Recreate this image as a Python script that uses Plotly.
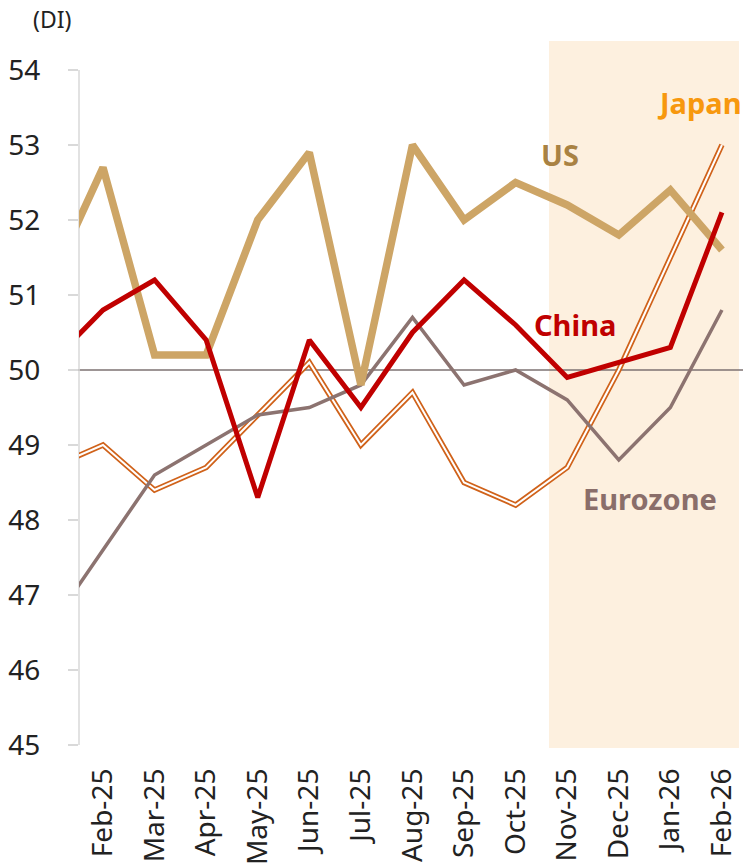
import plotly.graph_objects as go

months = ["Jan-25", "Feb-25", "Mar-25", "Apr-25", "May-25", "Jun-25", "Jul-25",
          "Aug-25", "Sep-25", "Oct-25", "Nov-25", "Dec-25", "Jan-26", "Feb-26"]
tick_labels = months[1:]
us = [51.2, 52.7, 50.2, 50.2, 52.0, 52.9, 49.8, 53.0, 52.0, 52.5, 52.2, 51.8, 52.4, 51.6]
china = [50.1, 50.8, 51.2, 50.4, 48.3, 50.4, 49.5, 50.5, 51.2, 50.6, 49.9, 50.1, 50.3, 52.1]
japan = [48.7, 49.0, 48.4, 48.7, 49.4, 50.1, 49.0, 49.7, 48.5, 48.2, 48.7, 50.0, 51.5, 53.0]
eurozone = [46.6, 47.6, 48.6, 49.0, 49.4, 49.5, 49.8, 50.7, 49.8, 50.0, 49.6, 48.8, 49.5, 50.8]
y_ticks = [45, 46, 47, 48, 49, 50, 51, 52, 53, 54]

FONT = "Noto Sans"
C_US = "#CDA566"
C_CHINA = "#C00000"
C_JAPAN = "#D0621A"
C_EURO = "#8C7370"

fig = go.Figure()
fig.add_trace(go.Scatter(x=months, y=japan, mode="lines",
                         line=dict(color=C_JAPAN, width=5.5), hoverinfo="skip"))
fig.add_trace(go.Scatter(x=months, y=japan, mode="lines",
                         line=dict(color="white", width=2), name="Japan"))
fig.add_trace(go.Scatter(x=months, y=eurozone, mode="lines",
                         line=dict(color=C_EURO, width=3.5), name="Eurozone"))
fig.add_trace(go.Scatter(x=months, y=us, mode="lines",
                         line=dict(color=C_US, width=7.5), name="US"))
fig.add_trace(go.Scatter(x=months, y=china, mode="lines",
                         line=dict(color=C_CHINA, width=5), name="China"))

shapes = [
    dict(type="rect", xref="x", yref="paper", x0=9.647, x1=13.33, y0=0, y1=1,
         fillcolor="#FDF0DF", line=dict(width=0), layer="below"),
    dict(type="line", xref="paper", yref="y", x0=-0.015, x1=1.005, y0=50, y1=50,
         line=dict(color="#7D7272", width=1.5), layer="below"),
    dict(type="line", xref="paper", yref="y", x0=0, x1=0, y0=45, y1=54,
         line=dict(color="#D9D9D9", width=1.5), layer="below"),
]

LBL = 29
annotations = [
    dict(x=9.86, y=52.87, text="<b>US</b>", font=dict(color="#A98243", size=LBL, family=FONT)),
    dict(x=12.57, y=53.56, text="<b>Japan</b>", font=dict(color="#F7980E", size=LBL, family=FONT)),
    dict(x=10.15, y=50.61, text="<b>China</b>", font=dict(color=C_CHINA, size=LBL, family=FONT)),
    dict(x=11.6, y=48.28, text="<b>Eurozone</b>", font=dict(color="#8A6E6A", size=LBL, family=FONT)),
    dict(x=(52 - 79) / 661, y=1 + (41 - 19) / 709, xref="paper", yref="paper", text="(DI)",
         font=dict(color="#222222", size=23, family=FONT)),
]
for a in annotations:
    a.setdefault("xref", "x")
    a.setdefault("yref", "y")
    a["showarrow"] = False
    a["xanchor"] = "center"
    a["yanchor"] = "middle"

fig.update_layout(
    width=743, height=868,
    margin=dict(l=79, r=3, t=41, b=118),
    plot_bgcolor="white", paper_bgcolor="white",
    showlegend=False,
    shapes=shapes,
    annotations=annotations,
    font=dict(family=FONT, color="#222222"),
    xaxis=dict(type="category", range=[0.535, 13.35], tickvals=tick_labels, ticktext=tick_labels,
               tickangle=-90, showgrid=False, zeroline=False, showline=False, ticks="",
               ticklabelstandoff=14,
               tickfont=dict(size=28, family=FONT, color="#222222")),
    yaxis=dict(range=[44.96, 54.386], tickvals=y_ticks, showgrid=False, zeroline=False,
               showline=False, ticks="outside", ticklen=10, tickcolor="#D9D9D9", tickwidth=1.5,
               ticklabelstandoff=22,
               tickfont=dict(size=28, family=FONT, color="#222222")),
)

fig.write_html("out.html", config={"displayModeBar": False},
               post_script="document.body.style.margin='0';document.body.style.overflow='hidden';")
